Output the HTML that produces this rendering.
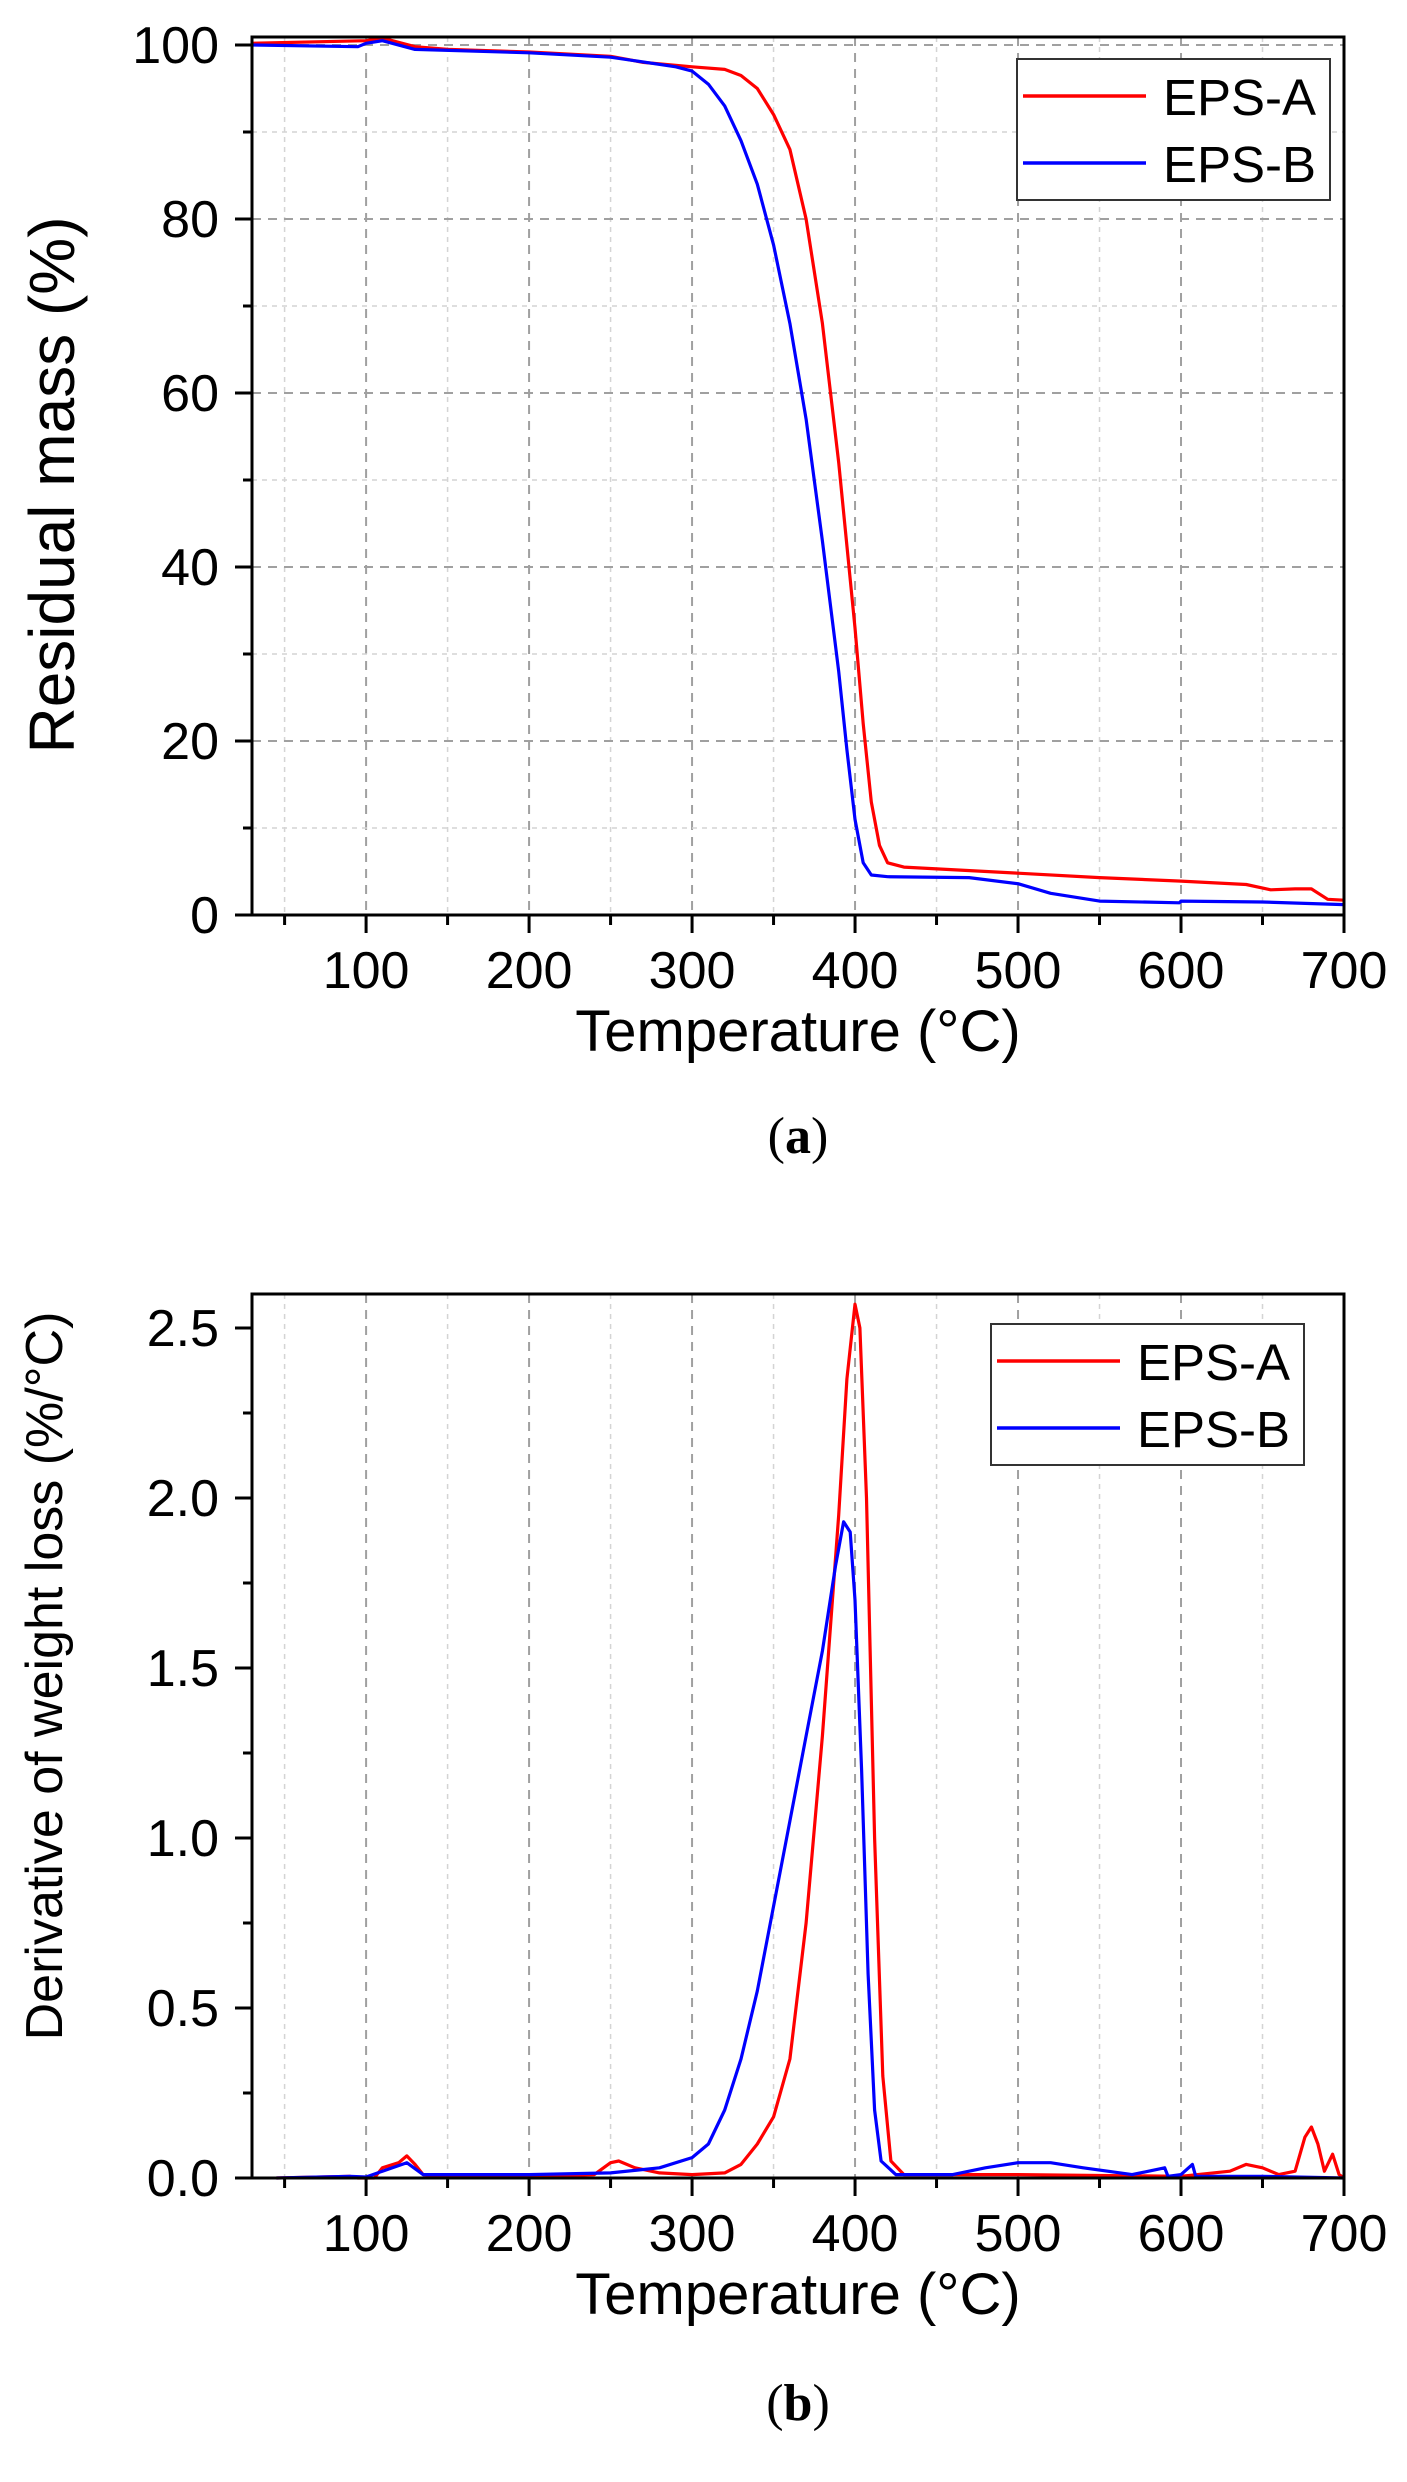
<!DOCTYPE html>
<html><head><meta charset="utf-8">
<style>
html,body{margin:0;padding:0;background:#fff;}
svg{display:block;font-family:"Liberation Sans",Arial,sans-serif;}
</style></head>
<body>
<svg id="fig" width="1407" height="2482" viewBox="0 0 1407 2482" xmlns="http://www.w3.org/2000/svg">
<rect x="0" y="0" width="1407" height="2482" fill="#fff"/>
</svg>
<script>
// ---- Chart (a) data: residual mass ----
const aXTicks = [100,200,300,400,500,600,700];
const aYTicks = [0,20,40,60,80,100];
const aTempA = [30,100,110,130,150,200,250,270,300,320,330,340,350,360,370,380,390,400,405,410,415,420,430,500,550,600,640,655,670,680,690,700];
const aMassA = [100.2,100.5,100.8,99.8,99.5,99.2,98.7,98.0,97.5,97.2,96.5,95,92,88,80,68,52,33,22,13,8,6,5.5,4.8,4.3,3.9,3.5,2.9,3.0,3.0,1.8,1.7];
const aTempB = [30,95,100,110,130,200,250,290,300,310,320,330,340,350,360,370,380,390,395,400,405,410,420,470,500,520,550,599,600,650,700];
const aMassB = [100.0,99.8,100.2,100.5,99.5,99.1,98.6,97.5,97,95.5,93,89,84,77,68,57,43,28,19,11,6,4.6,4.4,4.3,3.6,2.5,1.6,1.4,1.6,1.5,1.2];
// ---- Chart (b) data: DTG ----
const bXTicks = [100,200,300,400,500,600,700];
const bYTicks = [0.0,0.5,1.0,1.5,2.0,2.5];
const bTempA = [45,90,95,105,110,120,125,130,135,150,200,240,250,255,265,280,300,320,330,340,350,360,370,380,390,395,400,403,407,412,417,422,430,500,600,630,640,650,660,670,676,680,684,688,693,697,700];
const bDerA = [0,0.005,0,0,0.03,0.045,0.065,0.04,0.01,0.005,0.005,0.01,0.045,0.05,0.03,0.015,0.01,0.015,0.04,0.1,0.18,0.35,0.75,1.3,1.95,2.35,2.57,2.5,2.0,1.0,0.3,0.05,0.01,0.01,0.005,0.02,0.04,0.03,0.01,0.02,0.12,0.15,0.10,0.02,0.07,0.01,0];
const bTempB = [45,90,100,110,125,135,200,250,280,300,310,320,330,340,350,360,370,380,388,393,397,400,404,408,412,416,425,460,480,500,520,540,570,590,592,600,607,609,650,700];
const bDerB = [0,0.005,0.003,0.02,0.045,0.01,0.01,0.015,0.03,0.06,0.1,0.2,0.35,0.55,0.8,1.05,1.3,1.55,1.8,1.93,1.9,1.7,1.2,0.6,0.2,0.05,0.01,0.01,0.03,0.045,0.045,0.03,0.01,0.03,0.005,0.01,0.04,0.005,0.005,0];
const seriesNames = ['EPS-A','EPS-B'];

const NS='http://www.w3.org/2000/svg';
const svg=document.getElementById('fig');
function mk(tag,attrs,parent){const e=document.createElementNS(NS,tag);for(const k in attrs)e.setAttribute(k,attrs[k]);(parent||svg).appendChild(e);return e;}

function drawChart(cfg){
  const g=mk('g',{});
  
  
  const L=252,R=1344,T=cfg.top,B=cfg.bottom;
  const xs=v=>L+(v-30)/(700-30)*(R-L);
  const ys=v=>B-(v-cfg.ymin)/(cfg.ymax-cfg.ymin)*(B-T);
  // grids
  for(let v=50;v<=650;v+=50){
    const major=v%100===0;
    const gl=mk('line',{x1:xs(v),x2:xs(v),y1:T,y2:B,stroke:major?'#a0a0a0':'#d4d4d4','stroke-width':major?2:1.5,'stroke-dasharray':major?'9,7':'5,5'},g);
    
    
  }
  if(cfg.hgrid){
    for(let v=cfg.ymin+cfg.minor;v<cfg.ymax;v+=cfg.minor){
      const major=Math.abs(v/cfg.major-Math.round(v/cfg.major))<1e-6;
      const gl=mk('line',{x1:L,x2:R,y1:ys(v),y2:ys(v),stroke:major?'#a0a0a0':'#d4d4d4','stroke-width':major?2:1.5,'stroke-dasharray':major?'9,7':'5,5'},g);
      
      
    }
  }
  // series
  const cols=['#ff0000','#0000ff'];
  cfg.series.forEach((s,i)=>{
    const d=s.x.map((t,j)=>(j?'L':'M')+xs(t).toFixed(1)+','+ys(s.y[j]).toFixed(1)).join(' ');
    const p=mk('path',{d:d,fill:'none',stroke:cols[i],'stroke-width':3.2,'stroke-linejoin':'round'},g);
    
    
  });
  // frame
  const fr=mk('rect',{x:L,y:T,width:R-L,height:B-T,fill:'none',stroke:'#000','stroke-width':3},g);
  
  
  // x ticks
  for(let v=50;v<=700;v+=50){
    const major=v%100===0;
    const t=mk('line',{x1:xs(v),x2:xs(v),y1:B,y2:B+(major?18:10),stroke:'#000','stroke-width':3},g);
    
    
  }
  cfg.xticks.forEach(v=>{
    const tx=mk('text',{x:xs(v),y:B+73,'font-size':52,'text-anchor':'middle',fill:'#000'},g);
    tx.textContent=v;
    
    
  });
  // y ticks
  for(let v=cfg.ymin;v<=cfg.ymax+1e-9;v+=cfg.minor){
    if(v<cfg.yticks[0]-1e-9) continue;
    const major=Math.abs(v/cfg.major-Math.round(v/cfg.major))<1e-6;
    const t=mk('line',{x1:L-(major?17:9),x2:L,y1:ys(v),y2:ys(v),stroke:'#000','stroke-width':3},g);
    
    
  }
  cfg.yticks.forEach(v=>{
    const tx=mk('text',{x:219,y:ys(v)+18,'font-size':52,'text-anchor':'end',fill:'#000'},g);
    tx.textContent=cfg.fmt(v);
    
    
  });
  // axis titles
  const xt=mk('text',{x:798,y:B+136,'font-size':58,'text-anchor':'middle',fill:'#000'},g);
  xt.textContent='Temperature (°C)';
  
  
  const yt=mk('text',{x:0,y:0,'font-size':cfg.ytSize,'text-anchor':'middle',fill:'#000',transform:`translate(${cfg.ytX},${cfg.ytY}) rotate(-90)`},g);
  yt.textContent=cfg.ytitle;
  
  
  // legend
  const lg=mk('g',{},g);
  
  
  mk('rect',{x:cfg.lx,y:cfg.ly,width:313,height:141,fill:'#fff',stroke:'#333','stroke-width':2},lg);
  seriesNames.forEach((n,i)=>{
    const yy=cfg.ly+37+i*67;
    const ln=mk('line',{x1:cfg.lx+6,x2:cfg.lx+129,y1:yy,y2:yy,stroke:cols[i],'stroke-width':3.5},lg);
    
    
    const tx=mk('text',{x:cfg.lx+146,y:yy+19,'font-size':51,fill:'#000'},lg);
    tx.textContent=n;
    
    
  });
  // panel label
  const pl=mk('text',{x:798,y:cfg.plY,'font-size':52,'text-anchor':'middle',fill:'#000','font-family':'"Liberation Serif",serif'},g);
  pl.innerHTML='(<tspan font-weight="bold">'+cfg.panel+'</tspan>)';
  
  
}

drawChart({name:'chart-a-residual-mass',top:37,bottom:915,ymin:0,ymax:(915-37)/8.7,major:20,minor:10,hgrid:true,
  xticks:aXTicks,yticks:aYTicks,fmt:v=>String(v),
  series:[{x:aTempA,y:aMassA},{x:aTempB,y:aMassB}],
  ytitle:'Residual mass (%)',ytSize:64,ytX:74,ytY:485,lx:1017,ly:59,panel:'a',plY:1153});
drawChart({name:'chart-b-derivative',top:1294,bottom:2178,ymin:0,ymax:(2178-1294)/340,major:0.5,minor:0.25,hgrid:false,
  xticks:bXTicks,yticks:bYTicks,fmt:v=>v.toFixed(1),
  series:[{x:bTempA,y:bDerA},{x:bTempB,y:bDerB}],
  ytitle:'Derivative of weight loss (%/°C)',ytSize:52,ytX:62,ytY:1676,lx:991,ly:1324,panel:'b',plY:2420});
</script>
</body></html>
